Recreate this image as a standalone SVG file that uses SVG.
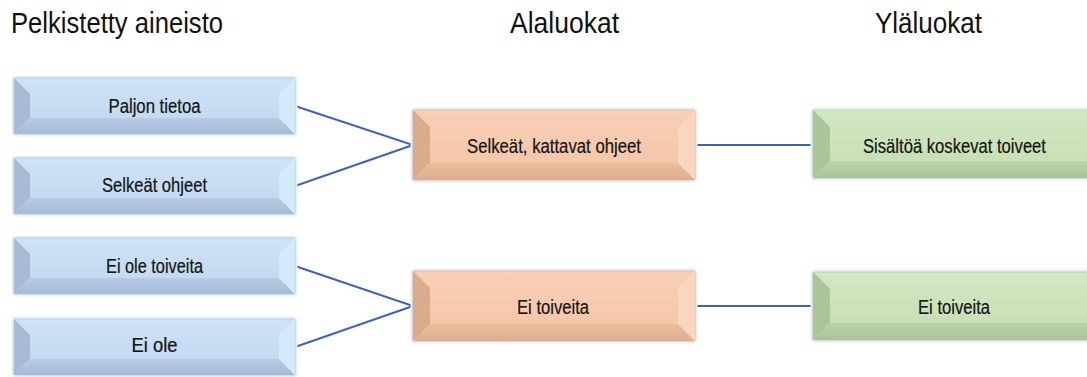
<svg xmlns="http://www.w3.org/2000/svg" width="1087" height="377" viewBox="0 0 1087 377">
  <defs>
    <linearGradient id="gBlue" x1="0" y1="0" x2="0" y2="1">
      <stop offset="0" stop-color="#cfe3f7"/>
      <stop offset="1" stop-color="#bed6ef"/>
    </linearGradient>
    <linearGradient id="gOrange" x1="0" y1="0" x2="0" y2="1">
      <stop offset="0" stop-color="#f8d0b6"/>
      <stop offset="1" stop-color="#f4c4a6"/>
    </linearGradient>
    <linearGradient id="gGreen" x1="0" y1="0" x2="0" y2="1">
      <stop offset="0" stop-color="#d2e7c2"/>
      <stop offset="1" stop-color="#c5ddb2"/>
    </linearGradient>
    <!-- bottom bevel shading, from face tone down to a darker edge -->
    <linearGradient id="bBlue" x1="0" y1="0" x2="0" y2="1">
      <stop offset="0" stop-color="#b6cce6"/>
      <stop offset="1" stop-color="#a4bad5"/>
    </linearGradient>
    <linearGradient id="bOrange" x1="0" y1="0" x2="0" y2="1">
      <stop offset="0" stop-color="#ecbc9e"/>
      <stop offset="1" stop-color="#dcad90"/>
    </linearGradient>
    <linearGradient id="bGreen" x1="0" y1="0" x2="0" y2="1">
      <stop offset="0" stop-color="#bcd4a9"/>
      <stop offset="1" stop-color="#abc39b"/>
    </linearGradient>
    <filter id="glow" x="-5%" y="-20%" width="110%" height="140%">
      <feGaussianBlur stdDeviation="0.6"/>
    </filter>
  </defs>
  <style>
    .title { font-family: "Liberation Sans", Arial, sans-serif; font-size: 29px; fill: #111; }
    .lbl { font-family: "Liberation Sans", Arial, sans-serif; font-size: 19.5px; fill: #141414; text-anchor: middle; stroke: #141414; stroke-width: 0.2; }
    .edge { stroke: #3d63b5; stroke-width: 2; fill: none; }
    .blue .base { fill: url(#gBlue); stroke: #b9cfe7; stroke-width: 1.2; }
    .blue .l { fill: #a6bcd6; }
    .blue .b { fill: url(#bBlue); }
    .blue .r { fill: #d3eafb; }
    .orange .base { fill: url(#gOrange); stroke: #e6bca2; stroke-width: 1.2; }
    .orange .l { fill: #dbab8e; }
    .orange .b { fill: url(#bOrange); }
    .orange .r { fill: #f9d6c0; }
    .green .base { fill: url(#gGreen); stroke: #bfd8ac; stroke-width: 1.2; }
    .green .l { fill: #acc49b; }
    .green .b { fill: url(#bGreen); }
    .halo { fill: none; stroke: #e6eef7; stroke-width: 3; }
  </style>

  <!-- column headings -->
  <g id="headings">
    <text class="title" x="11" y="33" textLength="212" lengthAdjust="spacingAndGlyphs">Pelkistetty aineisto</text>
    <text class="title" x="510" y="33" textLength="109" lengthAdjust="spacingAndGlyphs">Alaluokat</text>
    <text class="title" x="875" y="33" textLength="107" lengthAdjust="spacingAndGlyphs">Yläluokat</text>
  </g>

  <!-- connectors -->
  <g id="connectors">
    <polyline class="edge" points="295,106 413,145 295,186"/>
    <polyline class="edge" points="295,266 413,306 295,347"/>
    <line class="edge" x1="695" y1="145" x2="813" y2="145"/>
    <line class="edge" x1="695" y1="306" x2="813" y2="306"/>
  </g>

  <!-- blue boxes: 281 x 56, bevel 16 -->
  <g id="node-paljon-tietoa" class="blue" transform="translate(14,78)">
    <rect class="halo" x="-1" y="-1" width="283" height="58" rx="3" filter="url(#glow)"/>
    <rect class="base" width="281" height="56" rx="2"/>
    <polygon class="l" points="0,0 16,16 16,40 0,56"/>
    <polygon class="b" points="0,56 16,40 265,40 281,56"/>
    <polygon class="r" points="281,0 281,56 265,40 265,16"/>
    <text class="lbl" x="140.5" y="35" textLength="92" lengthAdjust="spacingAndGlyphs">Paljon tietoa</text>
  </g>
  <g id="node-selkeat-ohjeet" class="blue" transform="translate(14,158)">
    <rect class="halo" x="-1" y="-1" width="283" height="58" rx="3" filter="url(#glow)"/>
    <rect class="base" width="281" height="56" rx="2"/>
    <polygon class="l" points="0,0 16,16 16,40 0,56"/>
    <polygon class="b" points="0,56 16,40 265,40 281,56"/>
    <polygon class="r" points="281,0 281,56 265,40 265,16"/>
    <text class="lbl" x="140.5" y="34" textLength="105" lengthAdjust="spacingAndGlyphs">Selkeät ohjeet</text>
  </g>
  <g id="node-ei-ole-toiveita" class="blue" transform="translate(14,238)">
    <rect class="halo" x="-1" y="-1" width="283" height="58" rx="3" filter="url(#glow)"/>
    <rect class="base" width="281" height="56" rx="2"/>
    <polygon class="l" points="0,0 16,16 16,40 0,56"/>
    <polygon class="b" points="0,56 16,40 265,40 281,56"/>
    <polygon class="r" points="281,0 281,56 265,40 265,16"/>
    <text class="lbl" x="140.5" y="35" textLength="97" lengthAdjust="spacingAndGlyphs">Ei ole toiveita</text>
  </g>
  <g id="node-ei-ole" class="blue" transform="translate(14,319)">
    <rect class="halo" x="-1" y="-1" width="283" height="58" rx="3" filter="url(#glow)"/>
    <rect class="base" width="281" height="56" rx="2"/>
    <polygon class="l" points="0,0 16,16 16,40 0,56"/>
    <polygon class="b" points="0,56 16,40 265,40 281,56"/>
    <polygon class="r" points="281,0 281,56 265,40 265,16"/>
    <text class="lbl" x="140.5" y="33" textLength="46" lengthAdjust="spacingAndGlyphs">Ei ole</text>
  </g>

  <!-- orange boxes: 282 x 70, bevel 17 -->
  <g id="node-selkeat-kattavat-ohjeet" class="orange" transform="translate(413,110)">
    <rect class="halo" x="-1" y="-1" width="284" height="72" rx="3" filter="url(#glow)"/>
    <rect class="base" width="282" height="70" rx="2"/>
    <polygon class="l" points="0,0 17,17 17,53 0,70"/>
    <polygon class="b" points="0,70 17,53 265,53 282,70"/>
    <polygon class="r" points="282,0 282,70 265,53 265,17"/>
    <text class="lbl" x="141" y="42.5" textLength="174" lengthAdjust="spacingAndGlyphs">Selkeät, kattavat ohjeet</text>
  </g>
  <g id="node-ei-toiveita-ala" class="orange" transform="translate(413,271)">
    <rect class="halo" x="-1" y="-1" width="284" height="72" rx="3" filter="url(#glow)"/>
    <rect class="base" width="282" height="70" rx="2"/>
    <polygon class="l" points="0,0 17,17 17,53 0,70"/>
    <polygon class="b" points="0,70 17,53 265,53 282,70"/>
    <polygon class="r" points="282,0 282,70 265,53 265,17"/>
    <text class="lbl" x="140" y="42.5" textLength="72" lengthAdjust="spacingAndGlyphs">Ei toiveita</text>
  </g>

  <!-- green boxes: run past the right edge -->
  <g id="node-sisaltoa-koskevat-toiveet" class="green" transform="translate(813,110)">
    <rect class="halo" x="-1" y="-1" width="304" height="70" rx="3" filter="url(#glow)"/>
    <rect class="base" width="302" height="68" rx="2"/>
    <polygon class="l" points="0,0 17,17 17,51 0,68"/>
    <polygon class="b" points="0,68 17,51 285,51 302,68"/>
    <text class="lbl" x="141.5" y="42.5" textLength="183" lengthAdjust="spacingAndGlyphs">Sisältöä koskevat toiveet</text>
  </g>
  <g id="node-ei-toiveita-yla" class="green" transform="translate(813,272)">
    <rect class="halo" x="-1" y="-1" width="304" height="70" rx="3" filter="url(#glow)"/>
    <rect class="base" width="302" height="68" rx="2"/>
    <polygon class="l" points="0,0 17,17 17,51 0,68"/>
    <polygon class="b" points="0,68 17,51 285,51 302,68"/>
    <text class="lbl" x="141" y="41.5" textLength="72" lengthAdjust="spacingAndGlyphs">Ei toiveita</text>
  </g>
</svg>
